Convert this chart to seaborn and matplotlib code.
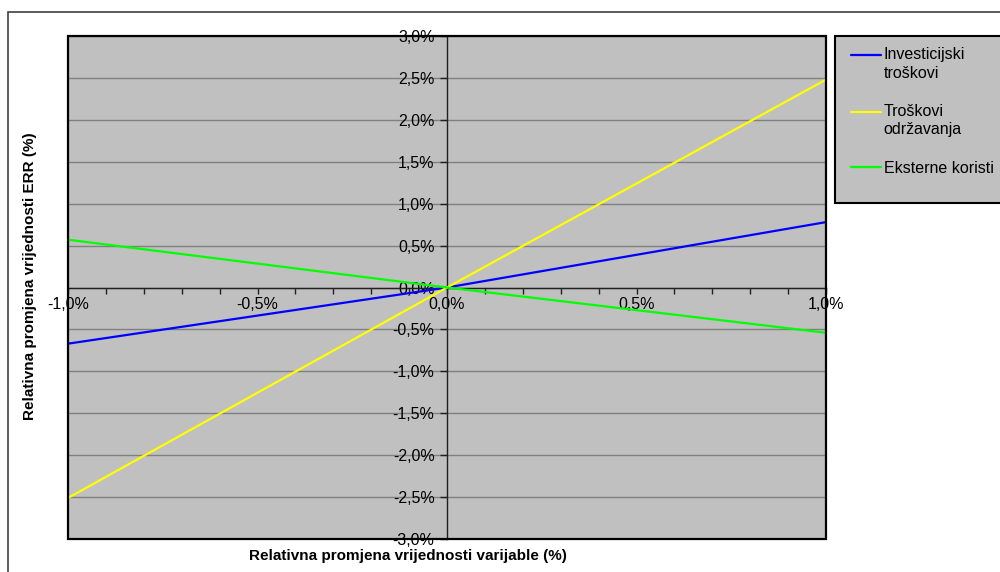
import numpy as np
import pandas as pd
import matplotlib
matplotlib.use("Agg")
import matplotlib.pyplot as plt
from matplotlib.lines import Line2D
from matplotlib.patches import Rectangle
from matplotlib.legend_handler import HandlerLine2D
from matplotlib.ticker import MultipleLocator, FuncFormatter
import seaborn as sns

# ---- data (percent) ----
x_vals = [-1.0, 0.0, 1.0]
investicijski = [-0.67, 0.0, 0.78]
odrzavanje = [-2.51, 0.0, 2.48]
eksterne = [0.57, 0.0, -0.54]
series_names = ["Investicijski\ntroškovi", "Troškovi\nodržavanja", "Eksterne koristi"]
series_colors = ["#0000FF", "#FFFF00", "#00FF00"]
x_label = "Relativna promjena vrijednosti varijable (%)"
y_label = "Relativna promjena vrijednosti ERR (%)"

df = pd.DataFrame({
    "x": x_vals * 3,
    "y": investicijski + odrzavanje + eksterne,
    "s": [series_names[0]] * 3 + [series_names[1]] * 3 + [series_names[2]] * 3,
})

sns.set_theme(style="white")
plt.rcParams["font.family"] = ["Liberation Sans", "DejaVu Sans"]
plt.rcParams["font.size"] = 11.5
plt.rcParams["text.color"] = "black"
plt.rcParams["xtick.color"] = "black"
plt.rcParams["ytick.color"] = "black"
plt.rcParams["xtick.labelcolor"] = "black"
plt.rcParams["ytick.labelcolor"] = "black"

fig = plt.figure(figsize=(10, 5.72), dpi=100)
fig.patch.set_facecolor("white")
ax = fig.add_axes([0.068, 1 - 539 / 572, 0.758, (539 - 36) / 572])
ax.set_facecolor("#C0C0C0")

sns.lineplot(data=df, x="x", y="y", hue="s", palette=series_colors,
             linewidth=1.6, ax=ax, legend=False, zorder=3)

ax.set_xlim(-1, 1)
ax.set_ylim(-3, 3)

# horizontal gridlines
ax.yaxis.set_major_locator(MultipleLocator(0.5))
ax.grid(axis="y", color="#808080", linewidth=1, zorder=1)
ax.grid(axis="x", visible=False)
ax.set_axisbelow(True)

# center axes
for side in ["top", "right"]:
    ax.spines[side].set_visible(False)
ax.spines["left"].set_position("zero")
ax.spines["bottom"].set_position("zero")
for side in ["left", "bottom"]:
    ax.spines[side].set_color("#202020")
    ax.spines[side].set_linewidth(1.0)
    ax.spines[side].set_zorder(2)

# plot-area border
ax.add_patch(Rectangle((0, 0), 1, 1, transform=ax.transAxes, fill=False,
                       edgecolor="black", linewidth=1.6, zorder=5, clip_on=False))

fmt = FuncFormatter(lambda v, p: f"{v:.1f}%".replace(".", ",").replace("-0,0", "0,0"))
ax.xaxis.set_major_locator(MultipleLocator(0.5))
ax.xaxis.set_minor_locator(MultipleLocator(0.1))
ax.xaxis.set_major_formatter(fmt)
ax.yaxis.set_major_formatter(fmt)
ax.tick_params(axis="x", which="both", direction="out", length=4, width=1,
               color="#202020", bottom=True, labelsize=11.5, pad=3)
ax.tick_params(axis="y", which="major", direction="out", length=5, width=1,
               color="#202020", left=True, labelsize=11.5, pad=4)
ax.set_xlabel("")
ax.set_ylabel("")

fig.text(0.408, 1 - 556 / 572, x_label, ha="center", va="center",
         fontsize=11, fontweight="bold", color="black")
fig.text(0.030, 1 - 276 / 572, y_label, ha="center", va="center",
         rotation=90, fontsize=11, fontweight="bold", color="black")

# outer chart border
fig.add_artist(Rectangle((8 / 1000, -0.1), 1.2, 1 - 12 / 572 + 0.1,
                         transform=fig.transFigure, fill=False,
                         edgecolor="#404040", linewidth=1.2))

# legend box
fig.add_artist(Rectangle((835 / 1000, 1 - 203 / 572), 0.2, 167 / 572,
                         transform=fig.transFigure, facecolor="#C0C0C0",
                         edgecolor="black", linewidth=1.5, zorder=0))


class TopHandler(HandlerLine2D):
    def __init__(self, shift, **kw):
        super().__init__(**kw)
        self.shift = shift

    def create_artists(self, legend, orig_handle, xdescent, ydescent,
                       width, height, fontsize, trans):
        arts = super().create_artists(legend, orig_handle, xdescent, ydescent,
                                      width, height, fontsize, trans)
        for a in arts:
            if isinstance(a, Line2D):
                a.set_ydata(np.asarray(a.get_ydata()) + self.shift)
        return arts


handles = [Line2D([0], [0], color=c, linewidth=1.6) for c in series_colors]
hmap = {}
for h, name in zip(handles, series_names):
    hmap[h] = TopHandler(shift=6.6 if "\n" in name else 0.0)
leg = fig.legend(handles, series_names, loc="upper left",
                 bbox_to_anchor=(851 / 1000, 1 - 47 / 572),
                 frameon=False, borderpad=0, borderaxespad=0,
                 handlelength=1.9, handletextpad=0.15, labelspacing=1.45,
                 fontsize=11.5, handler_map=hmap)
for t in leg.get_texts():
    t.set_linespacing(1.3)
    t.set_color("black")
leg.set_zorder(6)

fig.savefig("out.png", dpi=100)
